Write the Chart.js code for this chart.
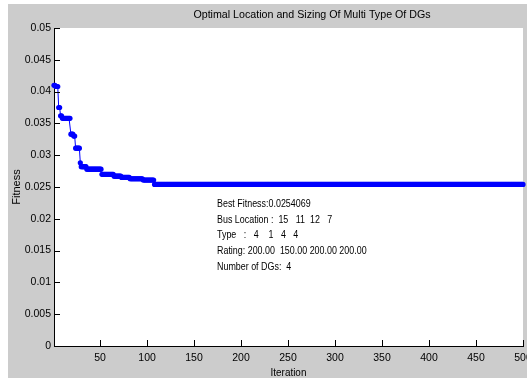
<!DOCTYPE html>
<html>
<head>
<meta charset="utf-8">
<script src="https://cdn.jsdelivr.net/npm/chart.js@4.4.0/dist/chart.umd.min.js"></script>
<style>
  html, body { margin: 0; padding: 0; background: #ffffff; }
</style>
</head>
<body>
<canvas id="plot" width="527" height="378"></canvas>
<script>
const chartTitle = "Optimal Location and Sizing Of Multi Type Of DGs";
const xTitle = "Iteration";
const yTitle = "Fitness";

// best fitness so far: iteration where each level starts and its value
const stepStarts = [1, 3, 6, 8, 10, 19, 22, 24, 29, 30, 36, 52, 65, 73, 82, 96, 108];
const stepValues = [0.0410, 0.0408, 0.0375, 0.0362, 0.0358, 0.0333, 0.0330, 0.0311,
                    0.0288, 0.0282, 0.0278, 0.0270, 0.0267, 0.0265, 0.0263, 0.0261, 0.0254069];
const lastIteration = 500;

const xTickValues = [50, 100, 150, 200, 250, 300, 350, 400, 450, 500];
const yTickValues = [0, 0.005, 0.01, 0.015, 0.02, 0.025, 0.03, 0.035, 0.04, 0.045, 0.05];
const yTickLabels = ["0", "0.005", "0.01", "0.015", "0.02", "0.025", "0.03", "0.035", "0.04", "0.045", "0.05"];

const infoLines = [
  "Best Fitness:0.0254069",
  "Bus Location :  15   11  12   7",
  "Type   :   4    1   4   4",
  "Rating: 200.00  150.00 200.00 200.00",
  "Number of DGs:  4"
];

const fontName = "'Liberation Sans', Arial, sans-serif";

// expand the step levels into one point per iteration
const points = [];
let level = 0;
for (let it = 1; it <= lastIteration; it++) {
  while (level + 1 < stepStarts.length && it >= stepStarts[level + 1]) level++;
  points.push({ x: it, y: stepValues[level] });
}

// draw text squeezed sideways, the reference font is narrow
function narrowText(ctx, text, x, y, squeeze) {
  ctx.save();
  ctx.translate(x, y);
  ctx.scale(squeeze, 1);
  ctx.fillText(text, 0, 0);
  ctx.restore();
}

const matlabLook = {
  id: "matlabLook",
  beforeDraw(chart) {
    const { ctx, chartArea: a } = chart;
    ctx.save();
    ctx.fillStyle = "#cccccc";
    ctx.fillRect(8, 4, chart.width - 8, chart.height - 4);
    ctx.fillStyle = "#ffffff";
    ctx.fillRect(a.left, a.top, a.right - a.left, a.bottom - a.top);
    ctx.restore();
  },
  afterDraw(chart) {
    const { ctx, chartArea: a } = chart;
    const xs = chart.scales.x, ys = chart.scales.y;
    ctx.save();
    // inward tick marks
    ctx.strokeStyle = "#000000";
    ctx.lineWidth = 1;
    ctx.beginPath();
    xTickValues.forEach(v => {
      const px = Math.round(xs.getPixelForValue(v)) + 0.5;
      ctx.moveTo(px, a.bottom);
      ctx.lineTo(px, a.bottom - 6);
    });
    yTickValues.forEach(v => {
      const py = Math.round(ys.getPixelForValue(v)) + 0.5;
      ctx.moveTo(a.left, py);
      ctx.lineTo(a.left + 6, py);
    });
    ctx.stroke();

    ctx.fillStyle = "#000000";
    ctx.textAlign = "center";
    ctx.textBaseline = "middle";
    ctx.font = "11px " + fontName;
    narrowText(ctx, chartTitle, 312, 15, 0.97);
    narrowText(ctx, xTitle, (a.left + a.right) / 2, 373, 0.9);

    ctx.save();
    ctx.translate(17, 187);
    ctx.rotate(-Math.PI / 2);
    ctx.fillText(yTitle, 0, 0);
    ctx.restore();

    ctx.textAlign = "left";
    infoLines.forEach((line, i) => {
      narrowText(ctx, line, 217, 204 + i * 15.7, 0.81);
    });
    ctx.restore();
  }
};

new Chart(document.getElementById("plot"), {
  type: "line",
  plugins: [matlabLook],
  data: {
    datasets: [{
      data: points,
      borderColor: "#0000ff",
      backgroundColor: "#0000ff",
      borderWidth: 1,
      pointRadius: 2.6,
      pointBorderWidth: 0,
      pointBackgroundColor: "#0000ff",
      clip: false
    }]
  },
  options: {
    responsive: false,
    animation: false,
    layout: { padding: { left: 0, right: 4, top: 28, bottom: 0 } },
    plugins: { legend: { display: false }, tooltip: { enabled: false } },
    scales: {
      x: {
        type: "linear",
        min: 1,
        max: lastIteration,
        afterBuildTicks(scale) { scale.ticks = xTickValues.map(v => ({ value: v })); },
        afterFit(scale) { scale.height = 32; scale.paddingLeft = 0; scale.paddingRight = 0; },
        grid: { display: true, drawOnChartArea: false, drawTicks: false },
        border: { display: true, color: "#000000", width: 1 },
        ticks: {
          color: "#000000",
          padding: 6,
          maxRotation: 0,
          autoSkip: false,
          font: { family: fontName, size: 10.5 }
        }
      },
      y: {
        min: 0,
        max: 0.05,
        afterBuildTicks(scale) { scale.ticks = yTickValues.map(v => ({ value: v })); },
        afterFit(scale) { scale.width = 54; scale.paddingTop = 0; scale.paddingBottom = 0; },
        grid: { display: true, drawOnChartArea: false, drawTicks: false },
        border: { display: true, color: "#000000", width: 1 },
        ticks: {
          color: "#000000",
          padding: 3,
          autoSkip: false,
          callback: (v, i) => yTickLabels[i],
          font: { family: fontName, size: 10.5 }
        }
      }
    }
  }
});
</script>
</body>
</html>
